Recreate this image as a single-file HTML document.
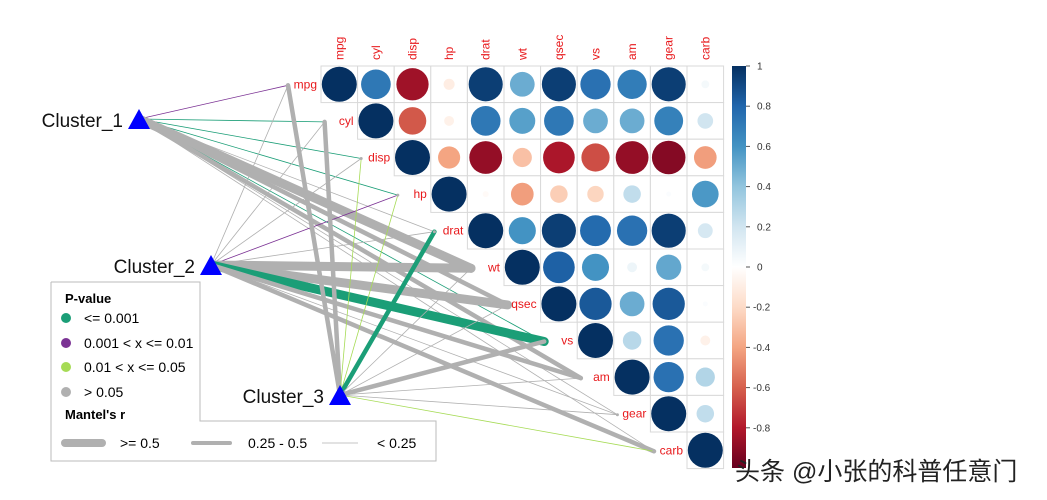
<!DOCTYPE html>
<html><head><meta charset="utf-8"><style>
body{margin:0;background:#fff;}
svg{display:block;font-family:"Liberation Sans",Arial,sans-serif;}
</style></head><body>
<svg id="c" width="1047" height="500" xmlns="http://www.w3.org/2000/svg">
<defs><linearGradient id="cb" x1="0" y1="1" x2="0" y2="0">
<stop offset="0" stop-color="#67001F"/><stop offset="0.1" stop-color="#B2182B"/><stop offset="0.2" stop-color="#D6604D"/><stop offset="0.3" stop-color="#F4A582"/><stop offset="0.4" stop-color="#FDDBC7"/><stop offset="0.5" stop-color="#FFFFFF"/><stop offset="0.6" stop-color="#D1E5F0"/><stop offset="0.7" stop-color="#92C5DE"/><stop offset="0.8" stop-color="#4393C3"/><stop offset="0.9" stop-color="#2166AC"/><stop offset="1" stop-color="#053061"/>
</linearGradient></defs>
<g id="links"></g><g id="grid"></g><g id="nodes"></g>
<g>
<polyline points="51,282 200,282 200,421 436,421 436,461 51,461 51,282" fill="none" stroke="#bbb" stroke-width="1"/>
<text x="65" y="303" font-size="13" font-weight="bold">P-value</text>
<circle cx="66" cy="318" r="5" fill="#1B9E77"/><text x="84" y="323" font-size="14">&lt;= 0.001</text>
<circle cx="66" cy="343" r="5" fill="#7B3294"/><text x="84" y="348" font-size="14">0.001 &lt; x &lt;= 0.01</text>
<circle cx="66" cy="367" r="5" fill="#A6DB55"/><text x="84" y="372" font-size="14">0.01 &lt; x &lt;= 0.05</text>
<circle cx="66" cy="392" r="5" fill="#B0B0B0"/><text x="84" y="397" font-size="14">&gt; 0.05</text>
<text x="65" y="419" font-size="13" font-weight="bold">Mantel's r</text>
<line x1="65" y1="443" x2="102" y2="443" stroke="#b0b0b0" stroke-width="8" stroke-linecap="round"/><text x="120" y="448" font-size="14">&gt;= 0.5</text>
<line x1="193" y1="443" x2="230" y2="443" stroke="#b0b0b0" stroke-width="4" stroke-linecap="round"/><text x="248" y="448" font-size="14">0.25 - 0.5</text>
<line x1="322" y1="443" x2="358" y2="443" stroke="#b0b0b0" stroke-width="0.8"/><text x="377" y="448" font-size="14">&lt; 0.25</text>
</g>
<g id="cbar">
<rect x="732" y="66" width="14" height="402" fill="url(#cb)"/>
</g>
<text x="735" y="480" font-size="25" fill="#222" font-family="'Liberation Sans','Noto Sans CJK SC',sans-serif">头条 @小张的科普任意门</text>
</svg>
<script>
const vars=["mpg","cyl","disp","hp","drat","wt","qsec","vs","am","gear","carb"];
const corrRows=[
[1,0.72,-0.85,-0.1,0.95,0.5,0.95,0.75,0.7,0.95,0.05],
[1,-0.62,-0.08,0.72,0.55,0.72,0.5,0.5,0.68,0.2],
[1,-0.4,-0.88,-0.3,-0.82,-0.65,-0.88,-0.92,-0.42],
[1,-0.03,-0.42,-0.25,-0.22,0.25,0.02,0.58],
[1,0.6,0.95,0.78,0.75,0.95,0.18],
[1,0.82,0.6,0.08,0.52,0.05],
[1,0.85,0.5,0.85,0.02],
[1,0.28,0.75,-0.08],
[1,0.75,0.3],
[1,0.25],
[1]];
const clusters=["Cluster_1","Cluster_2","Cluster_3"];
const clusterPos=[[139,119],[211,265],[340,395]];
const linkR=[
[0,0,0,0,0,2,1,0,1,0,0],
[0,0,0,0,0,2,2,2,1,0,1],
[1,1,0,0,1,0,0,1,0,0,0]];
const linkP=[
[1,0,0,0,3,3,3,0,3,3,3],
[3,3,3,1,3,3,3,0,3,3,3],
[3,3,2,2,0,3,3,3,3,3,2]];
const cbTicks=[1,0.8,0.6,0.4,0.2,0,-0.2,-0.4,-0.6,-0.8];
const NS="http://www.w3.org/2000/svg";
const X0=321,Y0=66,CELL=36.6;
const colX=j=>X0+CELL*j, rowY=i=>Y0+CELL*i;
const cbY=v=>66+(1-v)*201;
const stops=[[-1,[103,0,31]],[-0.8,[178,24,43]],[-0.6,[214,96,77]],[-0.4,[244,165,130]],[-0.2,[253,219,199]],[0,[255,255,255]],[0.2,[209,229,240]],[0.4,[146,197,222]],[0.6,[67,147,195]],[0.8,[33,102,172]],[1,[5,48,97]]];
function col(v){for(let k=0;k<stops.length-1;k++){const a=stops[k],b=stops[k+1];if(v<=b[0]){const t=(v-a[0])/(b[0]-a[0]);return "rgb("+a[1].map((c,i)=>Math.round(c+(b[1][i]-c)*t)).join(",")+")";}}return "rgb(5,48,97)";}
function mk(tag,attrs,parent){const e=document.createElementNS(NS,tag);for(const k in attrs)e.setAttribute(k,attrs[k]);parent.appendChild(e);return e;}
const grid=document.getElementById("grid"),links=document.getElementById("links"),nodes=document.getElementById("nodes"),cbar=document.getElementById("cbar");
const pCols=["#1B9E77","#7B3294","#A6DB55","#B0B0B0"],rW=[0.8,4.5,9];
const anchor=i=>[colX(i)-33,rowY(i)+CELL/2+1];
for(let c=0;c<3;c++)for(let i=0;i<vars.length;i++){
 const a=anchor(i);
 const l=mk("line",{x1:clusterPos[c][0],y1:clusterPos[c][1],x2:a[0],y2:a[1],stroke:pCols[linkP[c][i]],"stroke-width":rW[linkR[c][i]],"stroke-linecap":"round"},links);
 
 
}
for(let i=0;i<vars.length;i++){
 for(let j=i;j<vars.length;j++){
  const v=corrRows[i][j-i];
  const r=mk("rect",{x:colX(j),y:rowY(i),width:CELL,height:CELL,fill:"#fff",stroke:"#d9d9d9","stroke-width":1},grid);
  
  
  const ci=mk("circle",{cx:colX(j)+CELL/2,cy:rowY(i)+CELL/2,r:Math.sqrt(Math.abs(v))*17.5,fill:col(v)},grid);
  
  
 }
 const t=mk("text",{x:colX(i)-4,y:rowY(i)+CELL/2+4,"font-size":12,fill:"#e8191c","text-anchor":"end"},grid);
 t.textContent=vars[i];
 
 
 const cx=colX(i)+CELL/2+4;
 const ct=mk("text",{x:cx,y:60,"font-size":12,fill:"#e8191c",transform:"rotate(-90 "+cx+" 60)"},grid);
 ct.textContent=vars[i];
 
 
 const a=anchor(i);
 const d=mk("circle",{cx:a[0],cy:a[1],r:1.5,fill:"#b0b0b0"},grid);
 
 
}
for(let c=0;c<3;c++){
 const [x,y]=clusterPos[c];
 const p=mk("polygon",{points:(x-11)+","+(y+10)+" "+(x+11)+","+(y+10)+" "+x+","+(y-10),fill:"#0000ff"},nodes);
 
 
 const t=mk("text",{x:x-16,y:y+8,"font-size":19,fill:"#111","text-anchor":"end"},nodes);
 t.textContent=clusters[c];
 
 
}
for(const v of cbTicks){
 const y=cbY(v);
 const tk=mk("line",{x1:746,y1:y,x2:750,y2:y,stroke:"#555","stroke-width":1},cbar);
 
 
 const t=mk("text",{x:v<0?753:757,y:y+3.5,"font-size":10,fill:"#333"},cbar);
 t.textContent=String(v);
 
 
}
</script>
</body></html>
